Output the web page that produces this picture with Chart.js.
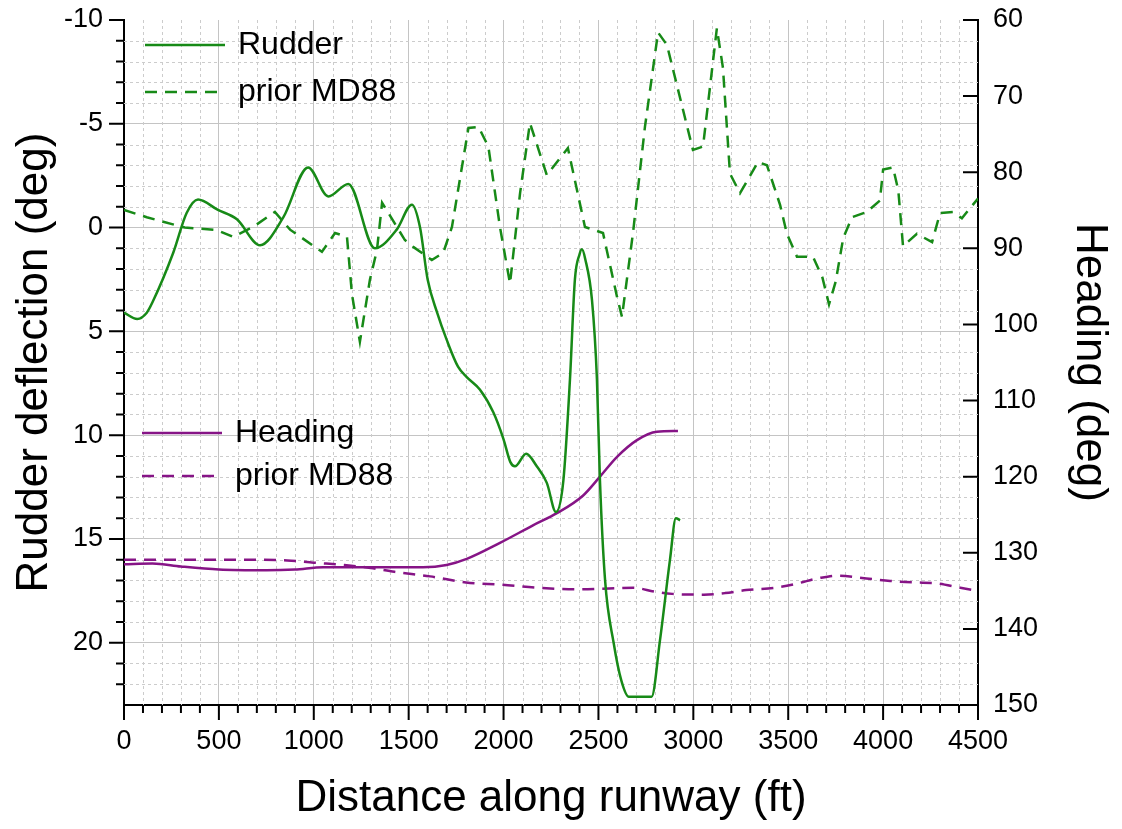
<!DOCTYPE html>
<html>
<head>
<meta charset="utf-8">
<script src="https://cdn.jsdelivr.net/npm/chart.js@4.4.0/dist/chart.umd.min.js"></script>
<style>
  html, body { margin: 0; padding: 0; background: #fff; }
  #wrap { width: 1122px; height: 829px; }
</style>
</head>
<body>
<div id="wrap"><canvas id="myChart" width="1122" height="829"></canvas></div>
<script>
// distance along runway (ft) and values
var rudderFt = [0, 70, 120, 150, 260, 330, 390, 495, 595, 717, 840, 970, 1077, 1182, 1322, 1437, 1517, 1560, 1600, 1650, 1700, 1760, 1806, 1875, 1946, 2000, 2036, 2060, 2119, 2175, 2228, 2276, 2315, 2350, 2376, 2400, 2413, 2430, 2466, 2492, 2508, 2535, 2580, 2620, 2660, 2780, 2824, 2877, 2908, 2930];
var rudderDeg = [4.1, 4.4, 4.1, 3.6, 1.2, -0.7, -1.35, -0.85, -0.4, 0.85, -0.5, -2.9, -1.5, -2.1, 1.0, 0.1, -1.1, 0, 2.5, 4.1, 5.4, 6.7, 7.2, 7.8, 8.9, 10.2, 11.3, 11.5, 10.9, 11.5, 12.3, 13.7, 12.2, 7.3, 2.5, 1.3, 1.05, 1.5, 3.5, 7.3, 12.2, 17.0, 20.0, 21.8, 22.6, 22.6, 19.9, 16.0, 14.0, 14.1];

var priorRudderFt = [0, 120, 320, 490, 575, 680, 795, 875, 1043, 1112, 1175, 1201, 1243, 1296, 1333, 1360, 1480, 1524, 1622, 1682, 1728, 1815, 1868, 1920, 1981, 2034, 2087, 2139, 2228, 2339, 2429, 2524, 2598, 2624, 2682, 2745, 2814, 2861, 2998, 3051, 3124, 3156, 3193, 3246, 3341, 3388, 3457, 3493, 3546, 3630, 3680, 3715, 3750, 3790, 3836, 3914, 3983, 4000, 4052, 4080, 4105, 4178, 4258, 4300, 4368, 4415, 4500];
var priorRudderDeg = [-0.85, -0.5, 0.0, 0.12, 0.45, -0.03, -0.75, 0.1, 1.17, 0.26, 0.45, 3.2, 5.5, 2.5, 1.08, -1.2, 0.6, 0.93, 1.56, 1.22, -0.03, -4.8, -4.85, -3.9, -0.03, 2.7, -1.66, -5.04, -2.53, -3.83, -0.03, 0.26, 3.34, 4.3, 0.26, -4.85, -9.4, -8.8, -3.74, -3.9, -9.6, -7.7, -2.6, -1.66, -3.16, -3.0, -1.1, 0.3, 1.4, 1.4, 2.4, 3.7, 2.6, 0.5, -0.5, -0.75, -1.3, -2.8, -2.9, -1.8, 0.9, 0.3, 0.7, -0.7, -0.75, -0.45, -1.4];

var headingFt = [0, 150, 300, 500, 750, 900, 1050, 1300, 1575, 1700, 1806, 1981, 2155, 2281, 2418, 2508, 2598, 2703, 2808, 2919];
var headingDeg = [131.5, 131.4, 131.8, 132.2, 132.3, 132.2, 131.9, 131.9, 131.9, 131.6, 130.8, 128.7, 126.4, 124.8, 122.5, 120.0, 117.4, 115.2, 114.1, 114.0];

var priorHeadingFt = [0, 500, 860, 1000, 1160, 1300, 1425, 1613, 1802, 1991, 2180, 2400, 2556, 2685, 2796, 2889, 3056, 3167, 3278, 3426, 3537, 3667, 3759, 3889, 4037, 4167, 4278, 4407, 4500];
var priorHeadingDeg = [130.9, 130.9, 131.0, 131.3, 131.6, 132.0, 132.5, 133.1, 133.9, 134.2, 134.6, 134.8, 134.7, 134.6, 135.1, 135.4, 135.5, 135.3, 134.9, 134.6, 134.1, 133.3, 133.0, 133.3, 133.7, 133.9, 134.0, 134.6, 135.0];

// axes
var xMin = 0, xMax = 4500, xStep = 500, xMinorStep = 100;
var rudderMin = -10, rudderMax = 23, rudderStep = 5, rudderMinorStep = 1;
var headingMin = 60, headingMax = 150, headingStep = 10;

var green = '#178a17';
var purple = '#861486';
var font = 'Liberation Sans, Arial, sans-serif';

function pts(xs, ys) {
    return xs.map(function (v, i) { return { x: v, y: ys[i] }; });
}

// fixed axis widths so the plot area lands where the original has it
function fixWidth(w) {
    return function (s) { s.width = w; s.paddingTop = 0; s.paddingBottom = 0; };
}

// minor grid, tick marks and the two in-plot legends
var extras = {
    id: 'extras',
    beforeDatasetsDraw: function (chart) {
        var ctx = chart.ctx, a = chart.chartArea, x = chart.scales.x, y = chart.scales.y;
        ctx.save();
        ctx.strokeStyle = '#cccccc';
        ctx.lineWidth = 1;
        ctx.setLineDash([3, 3]);
        ctx.beginPath();
        for (var f = xMin + xMinorStep; f < xMax; f += xMinorStep) {
            if (f % xStep === 0) continue;
            var px = Math.round(x.getPixelForValue(f)) + 0.5;
            ctx.moveTo(px, a.top); ctx.lineTo(px, a.bottom);
        }
        for (var v = rudderMin + rudderMinorStep; v < rudderMax; v += rudderMinorStep) {
            if (v % rudderStep === 0) continue;
            var py = Math.round(y.getPixelForValue(v)) + 0.5;
            ctx.moveTo(a.left, py); ctx.lineTo(a.right, py);
        }
        ctx.stroke();
        ctx.restore();
    },
    afterDraw: function (chart) {
        var ctx = chart.ctx, a = chart.chartArea;
        var x = chart.scales.x, y = chart.scales.y, y2 = chart.scales.y2;
        ctx.save();
        ctx.strokeStyle = '#000';
        ctx.lineWidth = 2;
        ctx.beginPath();
        // left ticks (outside)
        for (var v = rudderMin; v < rudderMax; v += rudderMinorStep) {
            var py = y.getPixelForValue(v);
            var len = (v % rudderStep === 0) ? 15 : 8;
            ctx.moveTo(a.left - len, py); ctx.lineTo(a.left, py);
        }
        // bottom ticks (outside)
        for (var f = xMin; f <= xMax; f += xMinorStep) {
            var px = x.getPixelForValue(f);
            var l2 = (f % xStep === 0) ? 15 : 8;
            ctx.moveTo(px, a.bottom); ctx.lineTo(px, a.bottom + l2);
        }
        // right ticks (inside)
        for (var h = headingMin; h <= headingMax; h += headingStep) {
            var ph = y2.getPixelForValue(h);
            ctx.moveTo(a.right - 15, ph); ctx.lineTo(a.right, ph);
        }
        ctx.stroke();

        // legends
        var groups = chart.options.plugins.extras.legends;
        ctx.font = '32px ' + font;
        ctx.textBaseline = 'middle';
        ctx.textAlign = 'left';
        groups.forEach(function (g) {
            g.items.forEach(function (idx, k) {
                var ds = chart.data.datasets[idx];
                var ly = g.y + k * g.gap;
                ctx.save();
                ctx.strokeStyle = ds.borderColor;
                ctx.lineWidth = ds.borderWidth;
                ctx.setLineDash(ds.borderDash || []);
                ctx.beginPath();
                ctx.moveTo(a.left + g.x, ly);
                ctx.lineTo(a.left + g.x + 80, ly);
                ctx.stroke();
                ctx.restore();
                ctx.fillStyle = '#000';
                ctx.fillText(ds.label, a.left + g.x + 93, ly);
            });
        });
        ctx.restore();
    }
};

var ctx = document.getElementById('myChart').getContext('2d');
var chart = new Chart(ctx, {
    type: 'line',
    data: {
        datasets: [{
            label: 'Rudder',
            data: pts(rudderFt, rudderDeg),
            yAxisID: 'y',
            borderColor: green,
            borderWidth: 2.5,
            cubicInterpolationMode: 'monotone'
        }, {
            label: 'prior MD88',
            data: pts(priorRudderFt, priorRudderDeg),
            yAxisID: 'y',
            borderColor: green,
            borderWidth: 2.5,
            borderDash: [12, 8],
            tension: 0
        }, {
            label: 'Heading',
            data: pts(headingFt, headingDeg),
            yAxisID: 'y2',
            borderColor: purple,
            borderWidth: 2.5,
            cubicInterpolationMode: 'monotone'
        }, {
            label: 'prior MD88',
            data: pts(priorHeadingFt, priorHeadingDeg),
            yAxisID: 'y2',
            borderColor: purple,
            borderWidth: 2.5,
            borderDash: [12, 8],
            cubicInterpolationMode: 'monotone'
        }]
    },
    options: {
        responsive: false,
        animation: false,
        layout: { padding: { top: 20 } },
        elements: { point: { radius: 0 } },
        plugins: {
            legend: { display: false },
            tooltip: { enabled: false },
            extras: {
                legends: [
                    { items: [0, 1], x: 21, y: 45, gap: 47 },
                    { items: [2, 3], x: 18, y: 433, gap: 43 }
                ]
            }
        },
        scales: {
            x: {
                type: 'linear',
                min: xMin, max: xMax,
                afterFit: function (s) { s.height = 124; },
                ticks: {
                    stepSize: xStep, padding: 20, color: '#000', font: { family: font, size: 27 },
                    callback: function (val) { return String(val); }
                },
                grid: {
                    drawTicks: false,
                    color: '#c4c4c4',
                    lineWidth: 1
                },
                border: { color: '#000', width: 2 },
                title: {
                    display: true, text: 'Distance along runway (ft)', color: '#000',
                    font: { family: font, size: 44 }, padding: { top: 0, bottom: 4 }
                }
            },
            y: {
                type: 'linear',
                position: 'left',
                reverse: true,
                min: rudderMin, max: rudderMax,
                afterFit: fixWidth(124),
                ticks: { stepSize: rudderStep, includeBounds: false, padding: 21, color: '#000', font: { family: font, size: 27 } },
                grid: {
                    drawTicks: false,
                    color: function (c) { return (c.tick && c.tick.value === rudderMin) ? 'rgba(0,0,0,0)' : '#c4c4c4'; },
                    lineWidth: 1
                },
                border: { color: '#000', width: 2 },
                title: {
                    display: true, text: 'Rudder deflection (deg)', color: '#000',
                    font: { family: font, size: 44 }, padding: { top: 8, bottom: 0 }
                }
            },
            y2: {
                type: 'linear',
                position: 'right',
                reverse: true,
                min: headingMin, max: headingMax,
                afterFit: fixWidth(144),
                ticks: { stepSize: headingStep, padding: 15, color: '#000', font: { family: font, size: 27 } },
                grid: { drawOnChartArea: false, drawTicks: false },
                border: { color: '#000', width: 2 },
                title: {
                    display: true, text: 'Heading (deg)', color: '#000',
                    font: { family: font, size: 44 }, padding: { top: 6, bottom: 0 }
                }
            }
        }
    },
    plugins: [extras]
});
</script>
</body>
</html>
